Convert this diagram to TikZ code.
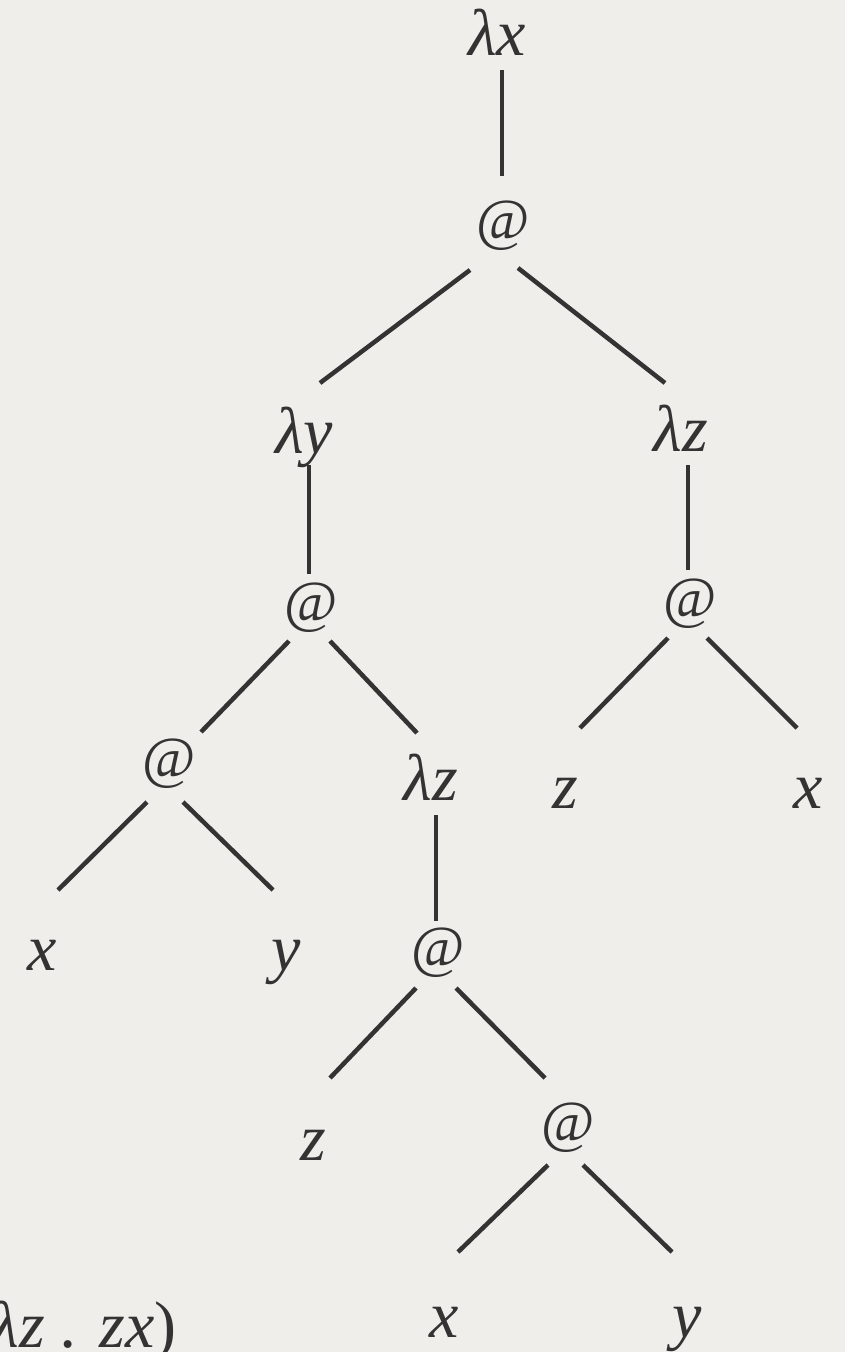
\documentclass[tikz,border=0pt]{standalone}
\usepackage{fontspec}
\newfontfamily\treefont{Liberation Serif}
\begin{document}
\begin{tikzpicture}[x=1pt,y=-1pt,
  lab/.style={font=\treefont\itshape\fontsize{66}{72}\selectfont, text=black!80, inner sep=0pt, anchor=base},
  atl/.style={font=\treefont\fontsize{58}{64}\selectfont, text=black!80, inner sep=0pt},
  edge/.style={draw=black!80, line width=4.5pt}]
\fill[black!5!white!96!brown] (0,0) rectangle (845,1352);
\useasboundingbox (0,0) rectangle (845,1352);
\clip (0,0) rectangle (845,1352);
% nodes
\node[lab] (lx) at (497,55) {λx};
\node[atl] (a1) at (503,226) {@};
\node[lab] (ly) at (304,453) {λy};
\node[lab] (lz1) at (681,451) {λz};
\node[atl] (a2) at (311,608) {@};
\node[atl] (a3) at (690,604) {@};
\node[atl] (a4) at (169,764) {@};
\node[lab] (lz2) at (431,800) {λz};
\node[lab] (z1) at (565,808) {z};
\node[lab] (x1) at (808,808) {x};
\node[lab] (x2) at (42,970) {x};
\node[lab] (y1) at (286,970) {y};
\node[atl] (a5) at (438,953) {@};
\node[lab] (z2) at (313,1160) {z};
\node[atl] (a6) at (568,1128) {@};
\node[lab] (x3) at (444,1337) {x};
\node[lab] (y2) at (687,1337) {y};
\node[lab, anchor=base east] (tail) at (177,1347) {λz . zx{\upshape)}};
% edge end points
\coordinate (e1) at (502,70);   \coordinate (e2) at (502,176);
\coordinate (e3) at (470,270);  \coordinate (e4) at (320,383);
\coordinate (e5) at (518,268);  \coordinate (e6) at (665,383);
\coordinate (e7) at (309,465);  \coordinate (e8) at (309,574);
\coordinate (e9) at (688,465);  \coordinate (e10) at (688,570);
\coordinate (e11) at (289,641); \coordinate (e12) at (201,732);
\coordinate (e13) at (330,641); \coordinate (e14) at (417,733);
\coordinate (e15) at (668,638); \coordinate (e16) at (580,728);
\coordinate (e17) at (707,638); \coordinate (e18) at (797,728);
\coordinate (e19) at (147,802); \coordinate (e20) at (58,890);
\coordinate (e21) at (183,802); \coordinate (e22) at (273,890);
\coordinate (e23) at (436,815); \coordinate (e24) at (436,921);
\coordinate (e25) at (416,988); \coordinate (e26) at (330,1078);
\coordinate (e27) at (456,988); \coordinate (e28) at (545,1078);
\coordinate (e29) at (548,1165); \coordinate (e30) at (458,1252);
\coordinate (e31) at (583,1165); \coordinate (e32) at (672,1252);
% edges
\draw[edge] (e1) -- (e2);
\draw[edge] (e3) -- (e4);
\draw[edge] (e5) -- (e6);
\draw[edge] (e7) -- (e8);
\draw[edge] (e9) -- (e10);
\draw[edge] (e11) -- (e12);
\draw[edge] (e13) -- (e14);
\draw[edge] (e15) -- (e16);
\draw[edge] (e17) -- (e18);
\draw[edge] (e19) -- (e20);
\draw[edge] (e21) -- (e22);
\draw[edge] (e23) -- (e24);
\draw[edge] (e25) -- (e26);
\draw[edge] (e27) -- (e28);
\draw[edge] (e29) -- (e30);
\draw[edge] (e31) -- (e32);
\end{tikzpicture}
\end{document}
